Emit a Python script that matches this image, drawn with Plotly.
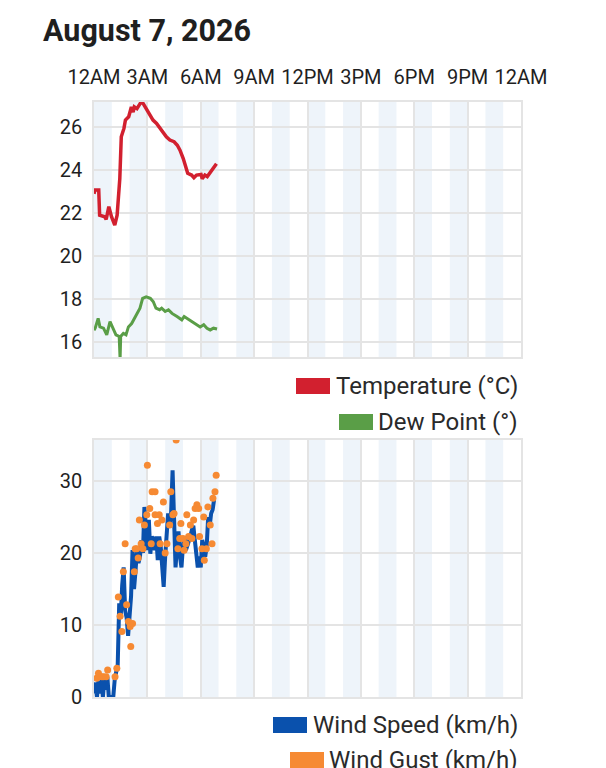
import pandas as pd
import plotly.graph_objects as go
from plotly.subplots import make_subplots

DAY = pd.Timestamp("2026-08-07")

# temperature / dew point, minutes after midnight
temp_min = [0, 3, 16, 19, 36, 41, 50, 59, 70, 78, 87, 92, 101, 106, 117, 126, 132, 136,
            145, 158, 166, 177, 188, 199, 211, 222, 233, 244, 256, 270, 281, 290, 301,
            316, 329, 337, 346, 361, 365, 374, 382, 397, 413]
temp_c = [22.9, 23.07, 23.07, 21.9, 21.83, 21.7, 22.3, 21.83, 21.44, 21.9, 23.6, 25.55,
          25.94, 26.33, 26.48, 26.94, 26.7, 26.94, 26.86, 27.15, 27.1, 26.86, 26.56,
          26.33, 26.17, 25.94, 25.78, 25.55, 25.4, 25.32, 25.16, 24.93, 24.54, 23.85,
          23.77, 23.65, 23.77, 23.8, 23.6, 23.77, 23.7, 24.0, 24.3]

dew_min = [0, 4, 14, 20, 32, 43, 54, 63, 74, 85, 88, 90, 99, 108, 116, 127, 139, 146,
           155, 164, 176, 190, 200, 209, 221, 228, 240, 251, 263, 280, 296, 304, 313,
           330, 347, 358, 370, 381, 392, 403, 415]
dew_c = [16.55, 16.64, 17.1, 16.7, 16.64, 16.33, 16.95, 16.7, 16.33, 16.26, 15.2, 16.26,
         16.4, 16.33, 16.7, 16.86, 17.18, 17.33, 17.57, 18.03, 18.1, 18.03, 17.87, 17.57,
         17.5, 17.57, 17.42, 17.5, 17.33, 17.18, 17.03, 17.18, 17.1, 16.95, 16.8, 16.7,
         16.8, 16.64, 16.56, 16.64, 16.6]

# wind, every 5 minutes
wind_min = list(range(0, 415, 5))
wind_kmh = [0.5, 2.0, 0, 2.2, 0.5, 2.4, 0, 2.6, 1.0, 2.8, 0, 0, 0, 0, 2.5, 3.3, 4.5, 13,
            11, 15.5, 18, 12, 11, 8.5, 12, 14, 20.4, 15, 17.5, 20.4, 18.6, 19.5, 21.8, 20,
            26.4, 24, 20.4, 24.6, 19.9, 22.3, 21.8, 20.4, 22.3, 19, 22.3, 20.9, 18.6, 15.3,
            19.5, 24, 25.5, 24, 25.5, 31.5, 23, 18, 21, 23, 19.5, 18, 21, 22.3, 20.4, 21,
            21.3, 22.3, 23.2, 23.8, 21.8, 19.5, 18, 19.5, 18, 21.8, 21, 19.5, 20.9, 25,
            23.7, 25.5, 26, 27.4, 27.4]

gust_min = [9, 15, 26, 32, 41, 46, 71, 77, 82, 88, 94, 99, 105, 110, 116, 122, 124, 130,
            136, 139, 144, 149, 153, 159, 165, 170, 178, 180, 188, 193, 196, 206, 206, 214,
            220, 223, 229, 234, 240, 246, 255, 259, 266, 270, 277, 283, 289, 293, 300, 304,
            310, 313, 319, 325, 330, 336, 341, 347, 353, 356, 364, 370, 372, 379, 384, 392,
            398, 401, 408, 412]
gust_kmh = [2.6, 3.3, 2.8, 2.8, 2.8, 3.75, 2.8, 4.0, 13.9, 11.2, 9.1, 17.4, 21.3, 12.8,
            10.5, 9.8, 7.0, 10.2, 17.4, 20.6, 20.6, 19.3, 24.6, 21.3, 20.6, 23.9, 25.3,
            32.2, 26.2, 21.3, 28.5, 28.5, 25.3, 24.1, 25.3, 21.3, 24.6, 27.1, 20, 21.3,
            23.9, 28.5, 25.3, 25.5, 35.7, 20.6, 22, 24.1, 22, 20.4, 21.3, 25.3, 22.3, 23.9,
            22, 24.6, 26.2, 26.7, 26.2, 22.3, 20.6, 25, 19, 20.6, 26.4, 23.9, 21.3, 27.6,
            28.5, 30.8]

RED = "#d2202f"
GREEN = "#5a9e47"
BLUE = "#0a51ad"
ORANGE = "#f68a33"
BAND = "#eef4fa"
GRID = "#e4e4e4"
TEXT = "#1f1f1f"
FONT = "Roboto"

# page has an 8px body margin; plot area on the page is x 94..521, y 102..697
PAD = 8
W, H = 606 - PAD, 768 - PAD
L, R, T, B = 94 - PAD, W - (521 - PAD), 102 - PAD, H - (697 - PAD)


def at(minutes):
    return DAY + pd.to_timedelta(minutes, unit="min")


def px(x):
    return (x - PAD - L) / (W - L - R)


def py(y):
    return 1 - (y - PAD - T) / (H - T - B)


fig = make_subplots(rows=2, cols=1)

fig.add_trace(go.Scatter(x=at(temp_min), y=temp_c, mode="lines",
                         line=dict(color=RED, width=3.5), showlegend=False), row=1, col=1)
fig.add_trace(go.Scatter(x=at(dew_min), y=dew_c, mode="lines",
                         line=dict(color=GREEN, width=3), showlegend=False), row=1, col=1)
fig.add_trace(go.Scatter(x=at(wind_min), y=wind_kmh, mode="lines",
                         line=dict(color=BLUE, width=4), showlegend=False), row=2, col=1)
fig.add_trace(go.Scatter(x=at(gust_min), y=gust_kmh, mode="markers",
                         marker=dict(color=ORANGE, size=7), showlegend=False), row=2, col=1)

# shaded even hours
for h in range(0, 24, 2):
    for xr, yr in (("x", "y domain"), ("x2", "y2 domain")):
        fig.add_shape(type="rect", xref=xr, yref=yr,
                      x0=at(h * 60), x1=at(h * 60 + 60), y0=0, y1=1,
                      fillcolor=BAND, line_width=0, layer="below")

xcommon = dict(range=[DAY, DAY + pd.Timedelta(hours=24)], dtick=3 * 3600 * 1000,
               tick0=DAY, showgrid=True, gridcolor=GRID, gridwidth=1.5,
               showline=True, mirror=True, linecolor=GRID, linewidth=1.5,
               zeroline=False, domain=[0, 1])
ycommon = dict(showgrid=True, gridcolor=GRID, gridwidth=1.5, showline=True, mirror=True,
               linecolor=GRID, linewidth=1.5, zeroline=False,
               tickfont=dict(size=20, color=TEXT, family=FONT), ticklabelstandoff=6)

fig.update_layout(
    xaxis=dict(xcommon, side="top", tickformat="%-I%p",
               tickfont=dict(size=20, color=TEXT, family=FONT), ticklabelstandoff=8),
    xaxis2=dict(xcommon, showticklabels=False),
    yaxis=dict(ycommon, range=[15.3, 27.17], dtick=2, domain=[py(357), 1]),
    yaxis2=dict(ycommon, range=[0, 35.7], dtick=10, domain=[0, py(440)]),
)

fig.update_layout(
    width=W, height=H, autosize=False,
    margin=dict(l=L, r=R, t=T, b=B),
    paper_bgcolor="white", plot_bgcolor="white",
    font=dict(family=FONT, color=TEXT),
    title=dict(text="August 7, 2026", x=(43 - PAD) / W, xanchor="left", xref="container",
               y=1 - (30 - PAD) / H, yanchor="middle", yref="container",
               font=dict(size=30.5, color=TEXT, family=FONT, weight=700)),
)

# legends drawn under each panel
legend_items = [
    ("Temperature (°C)", RED, 296, 386),
    ("Dew Point (°)", GREEN, 339, 422),
    ("Wind Speed (km/h)", BLUE, 273, 725),
    ("Wind Gust (km/h)", ORANGE, 290, 760),
]
for label, color, x0, yc in legend_items:
    fig.add_shape(type="rect", xref="paper", yref="paper",
                  x0=px(x0), x1=px(x0 + 34), y0=py(yc - 8), y1=py(yc + 8),
                  fillcolor=color, line_width=0)
    fig.add_annotation(text=label, xref="paper", yref="paper", x=px(520), y=py(yc),
                       xanchor="right", yanchor="middle", showarrow=False,
                       font=dict(size=24, color="#2a2a2a", family=FONT))

fig.write_html("out.html")
